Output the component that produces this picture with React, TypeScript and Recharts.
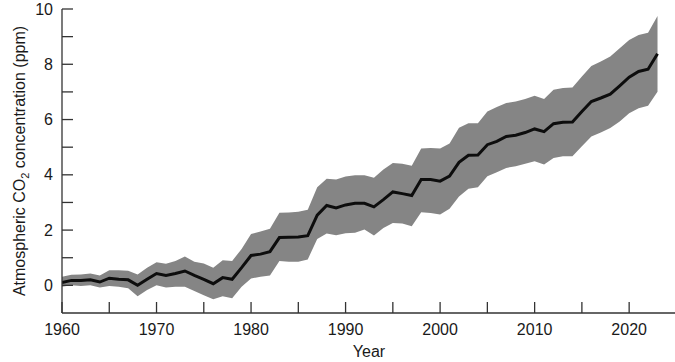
import React from 'react';
import { ComposedChart, Area, Line, XAxis, YAxis } from 'recharts';

const years = [
  1960, 1961, 1962, 1963, 1964, 1965, 1966, 1967, 1968, 1969,
  1970, 1971, 1972, 1973, 1974, 1975, 1976, 1977, 1978, 1979,
  1980, 1981, 1982, 1983, 1984, 1985, 1986, 1987, 1988, 1989,
  1990, 1991, 1992, 1993, 1994, 1995, 1996, 1997, 1998, 1999,
  2000, 2001, 2002, 2003, 2004, 2005, 2006, 2007, 2008, 2009,
  2010, 2011, 2012, 2013, 2014, 2015, 2016, 2017, 2018, 2019,
  2020, 2021, 2022, 2023,
];

const meanCo2 = [
  0.1, 0.18, 0.18, 0.2, 0.12, 0.26, 0.22, 0.2, 0.0, 0.22,
  0.43, 0.36, 0.43, 0.52, 0.36, 0.22, 0.06, 0.28, 0.22, 0.64,
  1.08, 1.13, 1.22, 1.73, 1.74, 1.75, 1.8, 2.54, 2.89, 2.8,
  2.91, 2.97, 2.97, 2.84, 3.1, 3.38, 3.32, 3.25, 3.83, 3.83,
  3.77, 3.95, 4.45, 4.71, 4.72, 5.09, 5.21, 5.39, 5.43, 5.53,
  5.66, 5.56, 5.85, 5.9, 5.91, 6.29, 6.65, 6.78, 6.92, 7.22,
  7.53, 7.74, 7.82, 8.38,
];

const upperCo2 = [
  0.31, 0.38, 0.39, 0.43, 0.36, 0.55, 0.55, 0.53, 0.39, 0.64,
  0.84, 0.78, 0.88, 1.04, 0.85, 0.79, 0.64, 0.91, 0.88, 1.32,
  1.86, 1.95, 2.05, 2.63, 2.64, 2.66, 2.74, 3.55, 3.86, 3.83,
  3.94, 3.98, 3.98, 3.89, 4.19, 4.43, 4.4, 4.33, 4.95, 4.97,
  4.95, 5.13, 5.7, 5.87, 5.87, 6.29, 6.45, 6.6, 6.65, 6.74,
  6.86, 6.74, 7.08, 7.14, 7.16, 7.56, 7.94, 8.1, 8.28, 8.58,
  8.88, 9.06, 9.14, 9.75,
];

const lowerCo2 = [
  -0.05, 0.0, -0.02, 0.0, -0.08, -0.02, -0.05, -0.1, -0.39, -0.17,
  0.0, -0.08, -0.05, -0.05, -0.2, -0.36, -0.5, -0.39, -0.47, -0.05,
  0.25, 0.31, 0.36, 0.88, 0.85, 0.85, 0.94, 1.68, 1.88, 1.81,
  1.89, 1.9, 2.02, 1.8, 2.08, 2.26, 2.24, 2.14, 2.65, 2.62,
  2.56, 2.77, 3.22, 3.5, 3.55, 3.95, 4.09, 4.25, 4.31, 4.4,
  4.49, 4.37, 4.61, 4.67, 4.67, 5.03, 5.39, 5.53, 5.69, 5.93,
  6.23, 6.41, 6.5, 7.01,
];

const xTicks = [1960, 1965, 1970, 1975, 1980, 1985, 1990, 1995, 2000, 2005, 2010, 2015, 2020];
const yTicks = [0, 1, 2, 3, 4, 5, 6, 7, 8, 9, 10];

const data = years.map((year, i) => ({
  year,
  mean: meanCo2[i],
  band: [lowerCo2[i], upperCo2[i]],
}));

const FONT = '"Liberation Sans", Arial, Helvetica, sans-serif';
const AXIS_COLOR = '#333';
const TEXT_COLOR = '#1a1a1a';

const YLabel = () => (
  <text
    x={25}
    y={161}
    transform="rotate(-90 25 161)"
    textAnchor="middle"
    fontFamily={FONT}
    fontSize={16}
    fill={TEXT_COLOR}
  >
    Atmospheric CO
    <tspan fontSize={11} dy={4}>2</tspan>
    <tspan dy={-4}> concentration (ppm)</tspan>
  </text>
);

const XLabel = () => (
  <text x={369} y={357} textAnchor="middle" fontFamily={FONT} fontSize={16} fill={TEXT_COLOR}>
    Year
  </text>
);

export default function App() {
  return (
    <div style={{ position: 'absolute', left: 0, top: 0, width: 675, height: 362, background: '#fff' }}>
      <ComposedChart width={675} height={362} data={data} margin={{ top: 9, right: 0, bottom: 0, left: 0 }}>
        <XAxis
          dataKey="year"
          type="number"
          domain={[1960, 2024.85]}
          ticks={xTicks}
          allowDataOverflow
          height={49}
          stroke={AXIS_COLOR}
          strokeWidth={1.3}
          tickSize={-11}
          tickMargin={22}
          tick={{ fill: TEXT_COLOR, fontSize: 16, fontFamily: FONT }}
          tickFormatter={(v: number) => (v % 10 === 0 ? String(v) : '')}
          label={<XLabel />}
        />
        <YAxis
          type="number"
          domain={[-1, 10]}
          ticks={yTicks}
          allowDataOverflow
          width={62}
          stroke={AXIS_COLOR}
          strokeWidth={1.3}
          tickSize={-11}
          tickMargin={20}
          tick={{ fill: TEXT_COLOR, fontSize: 16, fontFamily: FONT }}
          tickFormatter={(v: number) => (v % 2 === 0 ? String(v) : '')}
          label={<YLabel />}
        />
        <Area
          type="linear"
          dataKey="band"
          fill="#858585"
          fillOpacity={1}
          stroke="none"
          isAnimationActive={false}
        />
        <Line
          type="linear"
          dataKey="mean"
          stroke="#0d0d0d"
          strokeWidth={3}
          dot={false}
          isAnimationActive={false}
        />
      </ComposedChart>
    </div>
  );
}
